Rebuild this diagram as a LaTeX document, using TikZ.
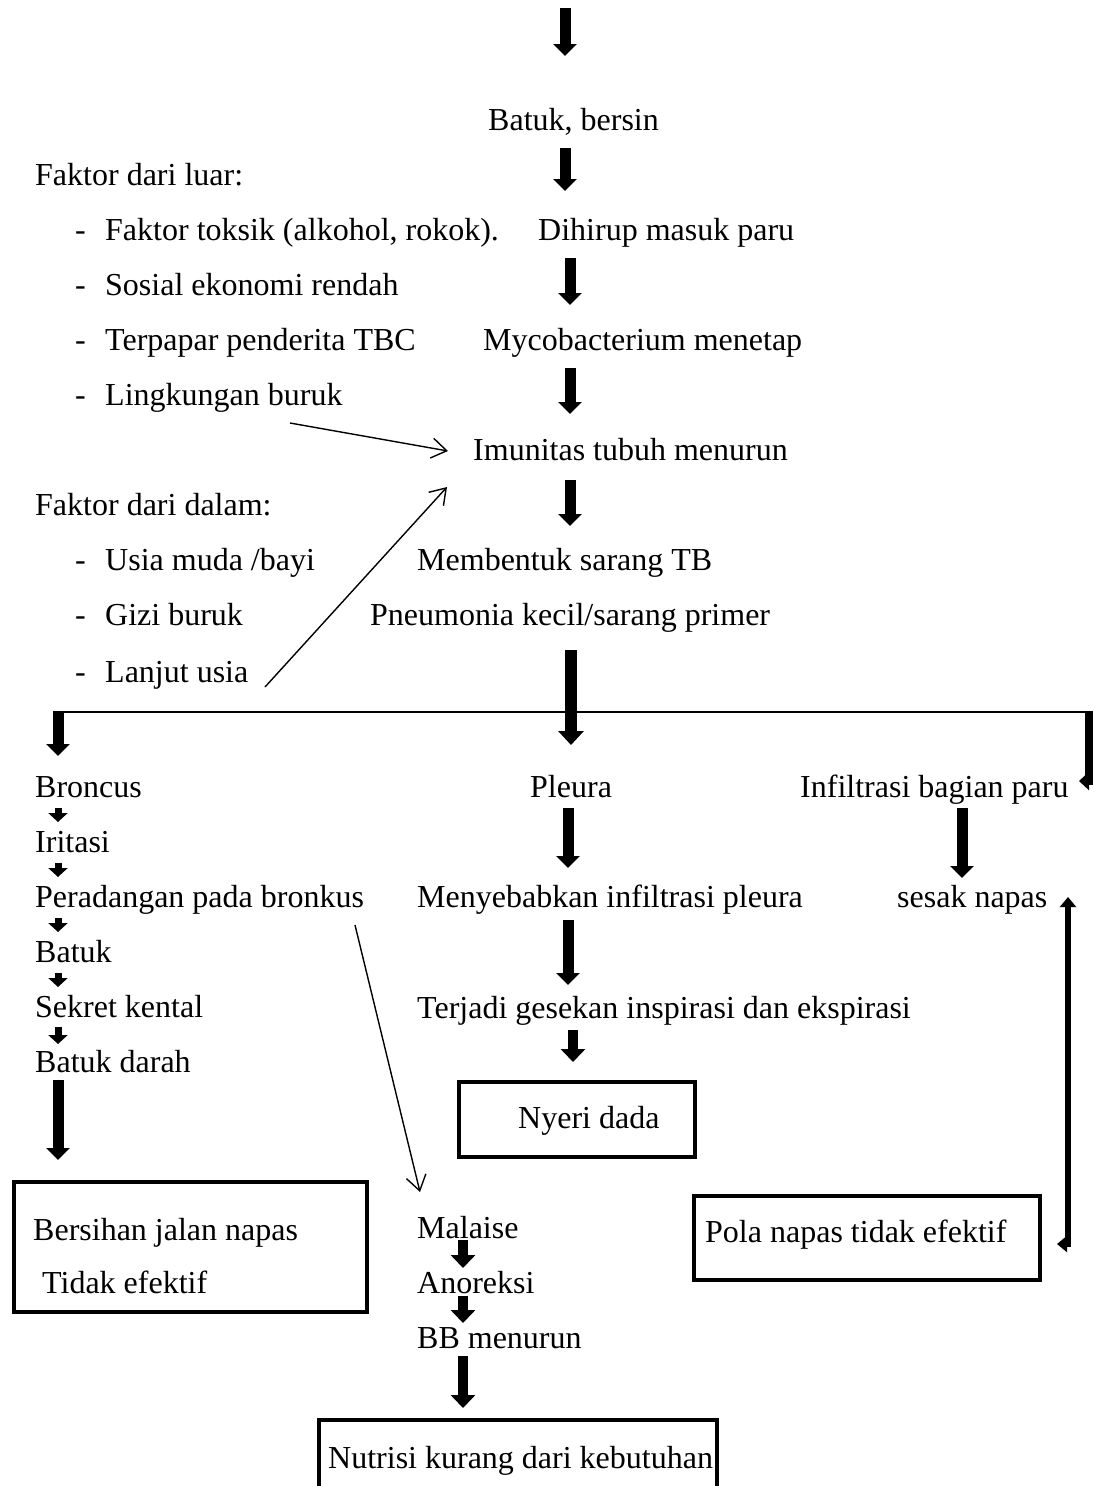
\documentclass[tikz,border=0pt]{standalone}
\usepackage{fontspec}
\setmainfont{Liberation Serif}
\usetikzlibrary{arrows.meta}
\begin{document}
\begin{tikzpicture}[x=1pt,y=-1pt,
  txt/.style={anchor=base west,inner sep=0pt,font=\fontsize{32}{38}\selectfont},
  fat/.style={line width=11pt,-{Triangle[width=23pt,length=12pt]}},
  mid/.style={line width=10pt,-{Triangle[width=24pt,length=13pt]}},
  tiny/.style={line width=7pt,-{Triangle[width=19pt,length=9pt]}},
  thin/.style={line width=1.4pt,-{Straight Barb[length=15pt,width=20pt]}},
  boxr/.style={draw,line width=4pt,inner sep=0pt}]
\useasboundingbox (0,0) rectangle (1096,1486);
% texts
\node[txt] (bb) at (488,130) {Batuk, bersin};
\node[txt] (fl) at (35,185) {Faktor dari luar:};
\foreach \yy in {240,295,350,405,570,625,682} \node[txt] at (75,\yy) {-};
\node[txt] (f1) at (105,240) {Faktor toksik (alkohol, rokok).};
\node[txt] (dh) at (538,240) {Dihirup masuk paru};
\node[txt] (f2) at (105,295) {Sosial ekonomi rendah};
\node[txt] (f3) at (105,350) {Terpapar penderita TBC};
\node[txt] (my) at (483,350) {Mycobacterium menetap};
\node[txt] (f4) at (105,405) {Lingkungan buruk};
\node[txt] (im) at (473,460) {Imunitas tubuh menurun};
\node[txt] (fd) at (35,515) {Faktor dari dalam:};
\node[txt] (d1) at (105,570) {Usia muda /bayi};
\node[txt] (ms) at (417,570) {Membentuk sarang TB};
\node[txt] (d2) at (105,625) {Gizi buruk};
\node[txt] (pn) at (370,625) {Pneumonia kecil/sarang primer};
\node[txt] (d3) at (105,682) {Lanjut usia};
\node[txt] (br) at (35,797) {Broncus};
\node[txt] (pl) at (530,797) {Pleura};
\node[txt] (ip) at (800,797) {Infiltrasi bagian paru};
\node[txt] (ir) at (35,852) {Iritasi};
\node[txt] (pb) at (35,907) {Peradangan pada bronkus};
\node[txt] (mi) at (417,907) {Menyebabkan infiltrasi pleura};
\node[txt] (sn) at (897,907) {sesak napas};
\node[txt] (bt) at (35,962) {Batuk};
\node[txt] (sk) at (35,1017) {Sekret kental};
\node[txt] (tg) at (417,1018) {Terjadi gesekan inspirasi dan ekspirasi};
\node[txt] (bd) at (35,1072) {Batuk darah};
\node[txt] (ml) at (417,1238) {Malaise};
\node[txt] (an) at (417,1293) {Anoreksi};
\node[txt] (bm) at (417,1348) {BB menurun};
% boxes
\node[boxr,anchor=north west,minimum width=236pt,minimum height=75pt] (nyb) at (457,1080) {};
\node[txt] (ny) at (518,1128) {Nyeri dada};
\node[boxr,anchor=north west,minimum width=353pt,minimum height=130pt] (bjb) at (12,1180) {};
\node[txt] (bj1) at (33,1240) {Bersihan jalan napas};
\node[txt] (bj2) at (42,1293) {Tidak efektif};
\node[boxr,anchor=north west,minimum width=346pt,minimum height=84pt] (pnb) at (692,1194) {};
\node[txt] (pt) at (705,1242) {Pola napas tidak efektif};
\node[boxr,anchor=north west,minimum width=398pt,minimum height=80pt] (nkb) at (317,1418) {};
\node[txt] (nk) at (328,1468) {Nutrisi kurang dari kebutuhan};
% main vertical arrows
\draw[fat] (565,8) -- (565,56);
\draw[fat] (565,148) -- (565,191);
\draw[fat] (570,258) -- (570,305);
\draw[fat] (570,368) -- (570,414);
\draw[fat] (570,480) -- (570,526);
\draw[line width=2pt] (55,712) -- (1091,712);
\draw[line width=12pt,-{Triangle[width=25pt,length=14pt]}] (571,650) -- (571,745);
\draw[fat] (58,711) -- (58,756);
% thin arrows
\draw[thin] (290,423) -- (448,451);
\draw[thin] (265,687) -- (447,487);
\draw[thin] (355,925) -- (420,1192);
% broncus column
\draw[tiny] (58,808) -- (58,822);
\draw[tiny] (58,863) -- (58,877);
\draw[tiny] (58,918) -- (58,932);
\draw[tiny] (58,973) -- (58,987);
\draw[tiny] (58,1027) -- (58,1044);
\draw[fat] (58,1080) -- (58,1160);
% pleura column
\draw[fat] (568,808) -- (568,868);
\draw[fat] (568,920) -- (568,985);
\draw[mid] (573,1030) -- (573,1062);
% infiltrasi column
\draw[fat] (962,808) -- (962,878);
\draw[line width=8pt,-{Triangle[width=18pt,length=10pt]}] (1089,711) -- (1089,781) -- (1079,781);
\draw[line width=6pt,{Triangle[width=16pt,length=10pt]}-{Triangle[width=16pt,length=10pt]}] (1068,897) -- (1068,1244) -- (1057,1244);
% nutrisi column
\draw[mid] (463,1240) -- (463,1268);
\draw[mid] (463,1296) -- (463,1323);
\draw[mid] (463,1356) -- (463,1408);
\end{tikzpicture}
\end{document}
